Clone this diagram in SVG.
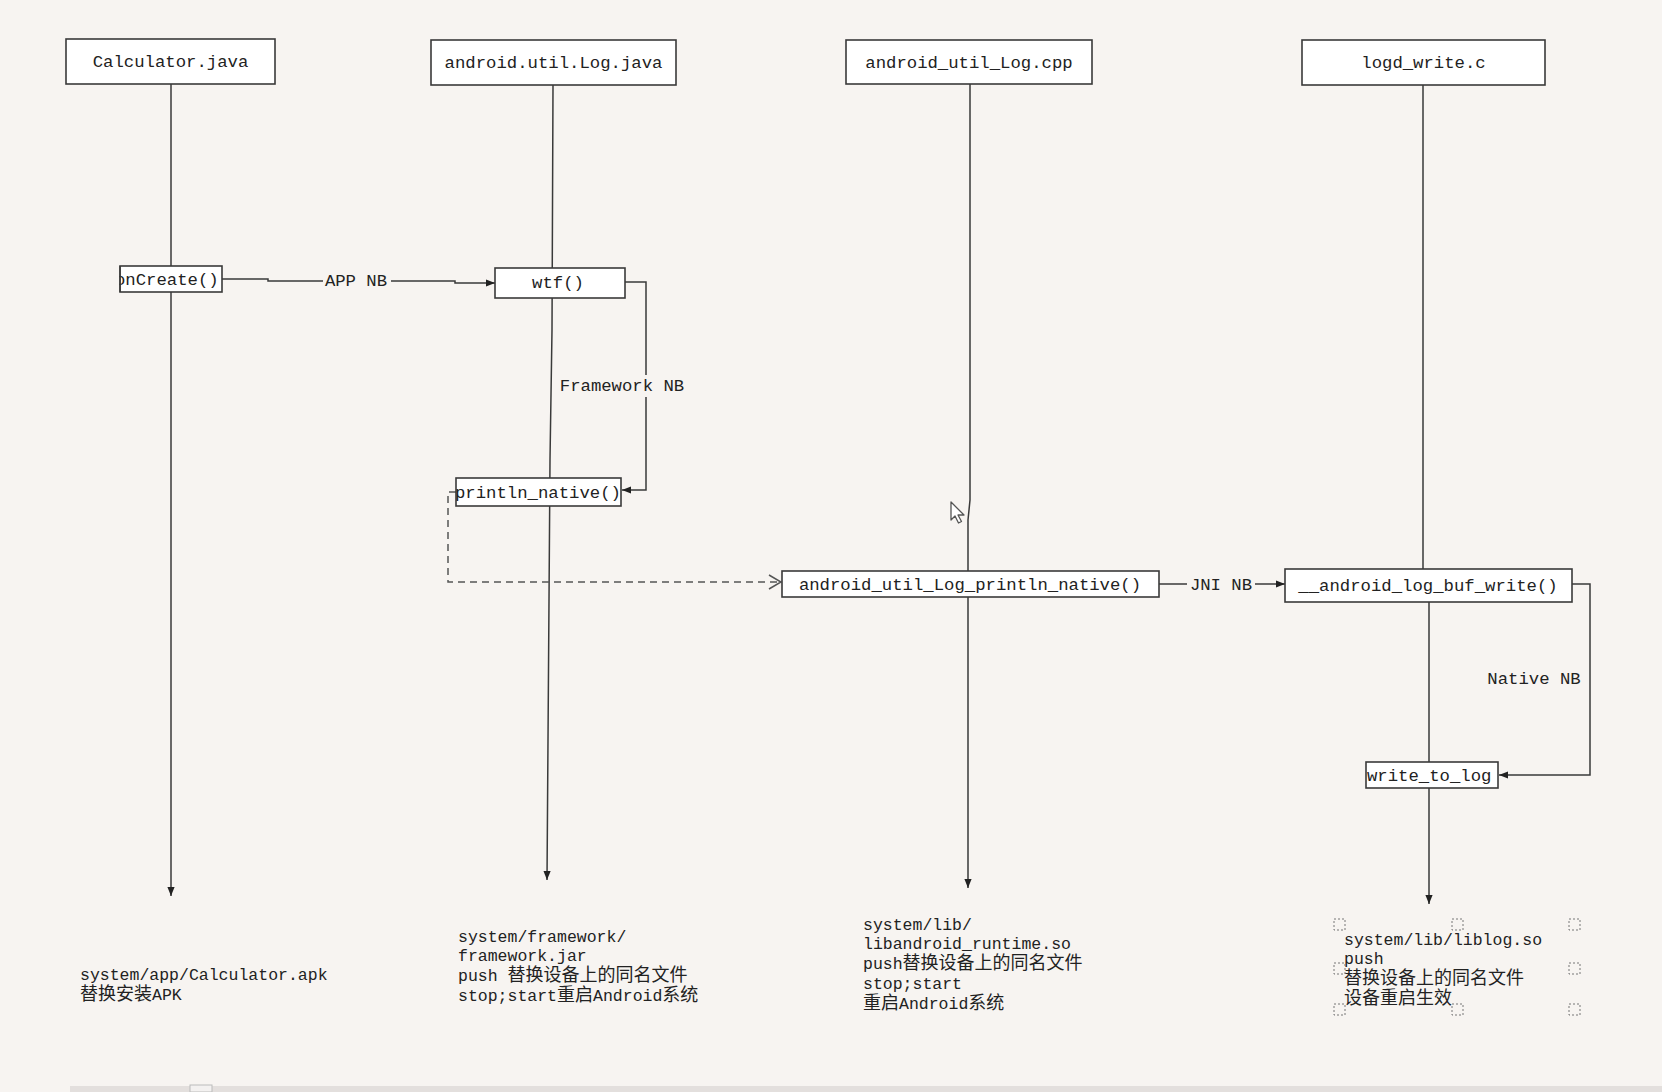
<svg xmlns="http://www.w3.org/2000/svg" width="1662" height="1092" viewBox="0 0 1662 1092">
<defs>
<style>
.bg{fill:#f7f4f1}
.box{fill:#ffffff;stroke:#3a3a3a;stroke-width:1.6}
.life{fill:none;stroke:#3a3a3a;stroke-width:1.5}
.conn{fill:none;stroke:#3a3a3a;stroke-width:1.5}
.dash{fill:none;stroke:#555;stroke-width:1.5;stroke-dasharray:7 5}
.t{font-family:"Liberation Mono","Noto Sans CJK SC",monospace;font-size:17.3px;fill:#222}
.tc{font-family:"Liberation Mono","Noto Sans CJK SC",monospace;font-size:17.3px;fill:#222;text-anchor:middle}
.note{font-family:"Liberation Mono","Noto Sans CJK SC",monospace;font-size:16.5px;fill:#222}
.cjk{font-family:"Liberation Mono","Noto Sans CJK SC",monospace;font-size:18px}
.handle{fill:none;stroke:#777;stroke-width:1;stroke-dasharray:2 2}
</style>
<marker id="af" viewBox="0 0 10 10" refX="10" refY="5" markerWidth="9" markerHeight="9" markerUnits="userSpaceOnUse" orient="auto">
<path d="M0,1 L10,5 L0,9 z" fill="#222"/>
</marker>
<marker id="ao" viewBox="0 0 14 16" refX="13" refY="8" markerWidth="14" markerHeight="16" markerUnits="userSpaceOnUse" orient="auto">
<path d="M1,1 L13,8 L1,15" fill="none" stroke="#555" stroke-width="1.5"/>
</marker>
</defs>
<rect class="bg" x="0" y="0" width="1662" height="1092"/>
<rect x="70" y="1086" width="1592" height="6" fill="#e3dfdd"/>
<rect x="190" y="1085" width="22" height="7" fill="#f3f1f0" stroke="#bbb" stroke-width="1"/>

<g id="lifelines">
<path class="life" d="M171,84 V896" marker-end="url(#af)"/>
<path class="life" d="M553,85 L552,330 L550,460 L547,880" marker-end="url(#af)"/>
<path class="life" d="M970,84 L970,500 L968,520 L968,888" marker-end="url(#af)"/>
<path class="life" d="M1423,85 L1423,570 L1429,600 L1429,904" marker-end="url(#af)"/>
</g>

<g id="connectors">
<path class="conn" d="M222,279 H268 V281 H455 V283 H495" marker-end="url(#af)"/>
<path class="conn" d="M625,282 H646 V490 H622" marker-end="url(#af)"/>
<path class="dash" d="M456,492 H448 V582 H781" marker-end="url(#ao)"/>
<path class="conn" d="M1159,584 H1285" marker-end="url(#af)"/>
<path class="conn" d="M1572,584 H1590 V775 H1499" marker-end="url(#af)"/>
<rect class="bg" x="323" y="270" width="68" height="22"/>
<text class="tc" x="356" y="286">APP NB</text>
<rect class="bg" x="558" y="375" width="130" height="22"/>
<text class="tc" x="622" y="391">Framework NB</text>
<rect class="bg" x="1187" y="574" width="68" height="22"/>
<text class="tc" x="1221" y="590">JNI NB</text>
<text class="tc" x="1534" y="684">Native NB</text>
</g>

<g id="calculator-java">
<rect class="box" x="66" y="39" width="209" height="45"/>
<text class="tc" x="170.5" y="67">Calculator.java</text>
</g>
<g id="android-util-log-java">
<rect class="box" x="431" y="40" width="245" height="45"/>
<text class="tc" x="553.5" y="68">android.util.Log.java</text>
</g>
<g id="android-util-log-cpp">
<rect class="box" x="846" y="40" width="246" height="44"/>
<text class="tc" x="969" y="68">android_util_Log.cpp</text>
</g>
<g id="logd-write-c">
<rect class="box" x="1302" y="40" width="243" height="45"/>
<text class="tc" x="1423.5" y="68">logd_write.c</text>
</g>

<g id="oncreate">
<rect class="box" x="120" y="266" width="102" height="26"/>
<text class="t" x="115" y="285">onCreate()</text>
<rect x="110" y="266" width="9.2" height="26" class="bg"/>
<line x1="120" y1="266" x2="120" y2="292" stroke="#3a3a3a" stroke-width="1.6"/>
</g>
<g id="wtf">
<rect class="box" x="495" y="268" width="130" height="30"/>
<text class="tc" x="558" y="288">wtf()</text>
</g>
<g id="println-native">
<rect class="box" x="456" y="478" width="165" height="28"/>
<text class="t" x="455" y="498">println_native()</text>
</g>
<g id="android-util-log-println-native">
<rect class="box" x="782" y="571" width="377" height="26"/>
<text class="tc" x="970" y="590">android_util_Log_println_native()</text>
</g>
<g id="android-log-buf-write">
<rect class="box" x="1285" y="569" width="287" height="33"/>
<text class="tc" x="1428" y="591">__android_log_buf_write()</text>
</g>
<g id="write-to-log">
<rect class="box" x="1366" y="762" width="132" height="26"/>
<text class="t" x="1367" y="781">write_to_log</text>
</g>

<g id="notes">
<text class="note" x="80" y="979.5">system/app/Calculator.apk</text>
<text class="note" x="80" y="1000"><tspan class="cjk">替换安装</tspan>APK</text>
<text class="note" x="458" y="942">system/framework/</text>
<text class="note" x="458" y="961">framework.jar</text>
<text class="note" x="458" y="981">push <tspan class="cjk">替换设备上的同名文件</tspan></text>
<text class="note" x="458" y="1001">stop;start<tspan class="cjk">重启</tspan>Android<tspan class="cjk">系统</tspan></text>
<text class="note" x="863" y="930">system/lib/</text>
<text class="note" x="863" y="949">libandroid_runtime.so</text>
<text class="note" x="863" y="969">push<tspan class="cjk">替换设备上的同名文件</tspan></text>
<text class="note" x="863" y="988.5">stop;start</text>
<text class="note" x="863" y="1008.5"><tspan class="cjk">重启</tspan>Android<tspan class="cjk">系统</tspan></text>
<text class="note" x="1344" y="945">system/lib/liblog.so</text>
<text class="note" x="1344" y="963.5">push</text>
<text class="note" x="1344" y="983.5"><tspan class="cjk">替换设备上的同名文件</tspan></text>
<text class="note" x="1344" y="1004"><tspan class="cjk">设备重启生效</tspan></text>
</g>

<g id="selection-handles">
<rect class="handle" x="1334" y="919" width="11" height="11"/>
<rect class="handle" x="1452" y="919" width="11" height="11"/>
<rect class="handle" x="1569" y="919" width="11" height="11"/>
<rect class="handle" x="1334" y="963" width="11" height="11"/>
<rect class="handle" x="1569" y="963" width="11" height="11"/>
<rect class="handle" x="1334" y="1004" width="11" height="11"/>
<rect class="handle" x="1452" y="1004" width="11" height="11"/>
<rect class="handle" x="1569" y="1004" width="11" height="11"/>
</g>

<g id="cursor">
<path d="M951,502 L951,520 L955,516 L958.5,523 L961.5,521.5 L958,515 L964,515 z" fill="#ffffff" stroke="#555" stroke-width="1.3" stroke-linejoin="round"/>
</g>
</svg>
